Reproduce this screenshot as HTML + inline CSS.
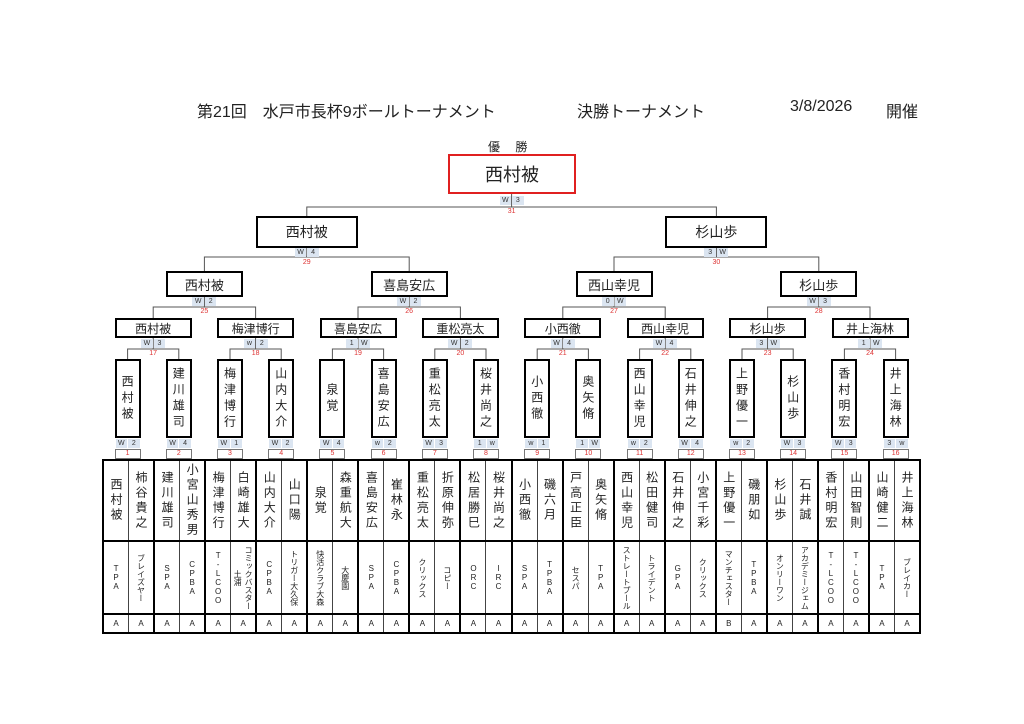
<!DOCTYPE html>
<html><head><meta charset="utf-8"><style>
*{box-sizing:border-box;margin:0;padding:0}
body{width:1024px;height:724px;background:#fff;position:relative;overflow:hidden;font-family:"Liberation Sans","Noto Sans CJK JP",sans-serif;color:#222}
.a{position:absolute}
.t{position:absolute;top:98px;font-size:16px;white-space:nowrap}
.vb{position:absolute;top:359px;width:26px;height:79px;border:2px solid #000;background:#fff;writing-mode:vertical-rl;text-orientation:upright;font-size:12px;display:flex;align-items:center;justify-content:center;letter-spacing:4px}
.hb{position:absolute;border:2px solid #000;background:#fff;display:flex;align-items:center;justify-content:center;font-size:12px}
.r2{top:318px;width:77px;height:20px}
.r3{top:271px;width:77px;height:26px;font-size:13px}
.r4{top:216px;width:102px;height:32px;font-size:14px}
.sc{position:absolute;width:24px;height:9px;display:flex;justify-content:space-between;font-size:7px;line-height:9px;color:#333}
.sc span{width:11.5px;background:#dbe5f1;text-align:center}
.mn{position:absolute;top:449px;width:26px;height:10px;border:1px solid #777;font-size:7px;line-height:8px;text-align:center;color:#d33;background:#fff}
.rn{position:absolute;width:30px;font-size:7px;text-align:center;color:#d33}
table{position:absolute;left:102px;top:459px;width:819px;border-collapse:collapse;table-layout:fixed;border:2px solid #000}
td{border:1px solid #444;text-align:center;vertical-align:middle}
td:nth-child(2n){border-right:2px solid #000}
.n td{height:81px}
.n div{writing-mode:vertical-rl;text-orientation:upright;font-size:12px;letter-spacing:3px;margin:auto;line-height:14px}
.c td{height:73px;border-top:2px solid #000}
.c div{writing-mode:vertical-rl;text-orientation:upright;font-size:8px;margin:auto;line-height:11px;max-height:68px}
.g td{height:19px;font-size:8px;border-top:2px solid #000}
</style></head><body>
<div class="t" style="left:197px">第21回　水戸市長杯9ボールトーナメント</div>
<div class="t" style="left:577px">決勝トーナメント</div>
<div class="t" style="left:790px">3/8/2026</div>
<div class="t" style="left:886px">開催</div>
<div class="a" style="left:488px;top:138px;font-size:12px">優　 勝</div>

<svg class="a" style="left:0;top:0" width="1024" height="724"><g fill="none" stroke="#555" stroke-width="1">
<path d="M127.6 359V349H178.8V359M153.2 349V338"/>
<path d="M230 359V349H281.2V359M255.6 349V338"/>
<path d="M332.4 359V349H383.6V359M358 349V338"/>
<path d="M434.8 359V349H486V359M460.4 349V338"/>
<path d="M537.2 359V349H588.4V359M562.8 349V338"/>
<path d="M639.6 359V349H690.8V359M665.2 349V338"/>
<path d="M742 359V349H793.2V359M767.6 349V338"/>
<path d="M844.4 359V349H895.6V359M870 349V338"/>
<path d="M153.2 318V307H255.6V318M204.4 307V297"/>
<path d="M358 318V307H460.4V318M409.2 307V297"/>
<path d="M562.8 318V307H665.2V318M614 307V297"/>
<path d="M767.6 318V307H870V318M818.8 307V297"/>
<path d="M204.4 271V257H409.2V271M306.8 257V248"/>
<path d="M614 271V257H818.8V271M716.4 257V248"/>
<path d="M306.8 216V207H716.4V216M511.6 207V194"/>
</g></svg>

<div class="hb" style="left:448px;top:154px;width:128px;height:40px;border-color:#e02020;font-size:18px">西村被</div>
<div class="sc" style="left:499.6px;top:196px"><span>W</span><span>3</span></div>
<div class="rn" style="left:496.6px;top:208px">31</div>

<div class="hb r4" style="left:255.8px">西村被</div>
<div class="hb r4" style="left:665.4px">杉山歩</div>
<div class="sc" style="left:294.8px;top:248px"><span>W</span><span>4</span></div>
<div class="rn" style="left:291.8px;top:259px">29</div>
<div class="sc" style="left:704.4px;top:248px"><span>3</span><span>W</span></div>
<div class="rn" style="left:701.4px;top:259px">30</div>

<div class="hb r3" style="left:165.9px">西村被</div>
<div class="hb r3" style="left:370.7px">喜島安広</div>
<div class="hb r3" style="left:575.5px">西山幸児</div>
<div class="hb r3" style="left:780.3px">杉山歩</div>
<div class="sc" style="left:192.4px;top:297px"><span>W</span><span>2</span></div>
<div class="rn" style="left:189.4px;top:308px">25</div>
<div class="sc" style="left:397.2px;top:297px"><span>W</span><span>2</span></div>
<div class="rn" style="left:394.2px;top:308px">26</div>
<div class="sc" style="left:602px;top:297px"><span>0</span><span>W</span></div>
<div class="rn" style="left:599px;top:308px">27</div>
<div class="sc" style="left:806.8px;top:297px"><span>W</span><span>3</span></div>
<div class="rn" style="left:803.8px;top:308px">28</div>

<div class="hb r2" style="left:114.7px">西村被</div>
<div class="hb r2" style="left:217.1px">梅津博行</div>
<div class="hb r2" style="left:319.5px">喜島安広</div>
<div class="hb r2" style="left:421.9px">重松亮太</div>
<div class="hb r2" style="left:524.3px">小西徹</div>
<div class="hb r2" style="left:626.7px">西山幸児</div>
<div class="hb r2" style="left:729.1px">杉山歩</div>
<div class="hb r2" style="left:831.5px">井上海林</div>
<div class="sc" style="left:141.2px;top:339px"><span>W</span><span>3</span></div><div class="rn" style="left:138.2px;top:350px">17</div>
<div class="sc" style="left:243.6px;top:339px"><span>w</span><span>2</span></div><div class="rn" style="left:240.6px;top:350px">18</div>
<div class="sc" style="left:346px;top:339px"><span>1</span><span>W</span></div><div class="rn" style="left:343px;top:350px">19</div>
<div class="sc" style="left:448.4px;top:339px"><span>W</span><span>2</span></div><div class="rn" style="left:445.4px;top:350px">20</div>
<div class="sc" style="left:550.8px;top:339px"><span>W</span><span>4</span></div><div class="rn" style="left:547.8px;top:350px">21</div>
<div class="sc" style="left:653.2px;top:339px"><span>W</span><span>4</span></div><div class="rn" style="left:650.2px;top:350px">22</div>
<div class="sc" style="left:755.6px;top:339px"><span>3</span><span>W</span></div><div class="rn" style="left:752.6px;top:350px">23</div>
<div class="sc" style="left:858px;top:339px"><span>1</span><span>W</span></div><div class="rn" style="left:855px;top:350px">24</div>

<div class="vb" style="left:114.6px">西村被</div>
<div class="vb" style="left:165.8px">建川雄司</div>
<div class="vb" style="left:217px">梅津博行</div>
<div class="vb" style="left:268.2px">山内大介</div>
<div class="vb" style="left:319.4px">泉覚</div>
<div class="vb" style="left:370.6px">喜島安広</div>
<div class="vb" style="left:421.8px">重松亮太</div>
<div class="vb" style="left:473px">桜井尚之</div>
<div class="vb" style="left:524.2px">小西徹</div>
<div class="vb" style="left:575.4px">奥矢脩</div>
<div class="vb" style="left:626.6px">西山幸児</div>
<div class="vb" style="left:677.8px">石井伸之</div>
<div class="vb" style="left:729px">上野優一</div>
<div class="vb" style="left:780.2px">杉山歩</div>
<div class="vb" style="left:831.4px">香村明宏</div>
<div class="vb" style="left:882.6px">井上海林</div>

<div class="sc" style="left:115.6px;top:439px"><span>W</span><span>2</span></div><div class="mn" style="left:114.6px">1</div>
<div class="sc" style="left:166.8px;top:439px"><span>W</span><span>4</span></div><div class="mn" style="left:165.8px">2</div>
<div class="sc" style="left:218px;top:439px"><span>W</span><span>1</span></div><div class="mn" style="left:217px">3</div>
<div class="sc" style="left:269.2px;top:439px"><span>W</span><span>2</span></div><div class="mn" style="left:268.2px">4</div>
<div class="sc" style="left:320.4px;top:439px"><span>W</span><span>4</span></div><div class="mn" style="left:319.4px">5</div>
<div class="sc" style="left:371.6px;top:439px"><span>w</span><span>2</span></div><div class="mn" style="left:370.6px">6</div>
<div class="sc" style="left:422.8px;top:439px"><span>W</span><span>3</span></div><div class="mn" style="left:421.8px">7</div>
<div class="sc" style="left:474px;top:439px"><span>1</span><span>w</span></div><div class="mn" style="left:473px">8</div>
<div class="sc" style="left:525.2px;top:439px"><span>w</span><span>1</span></div><div class="mn" style="left:524.2px">9</div>
<div class="sc" style="left:576.4px;top:439px"><span>1</span><span>W</span></div><div class="mn" style="left:575.4px">10</div>
<div class="sc" style="left:627.6px;top:439px"><span>w</span><span>2</span></div><div class="mn" style="left:626.6px">11</div>
<div class="sc" style="left:678.8px;top:439px"><span>W</span><span>4</span></div><div class="mn" style="left:677.8px">12</div>
<div class="sc" style="left:730px;top:439px"><span>w</span><span>2</span></div><div class="mn" style="left:729px">13</div>
<div class="sc" style="left:781.2px;top:439px"><span>W</span><span>3</span></div><div class="mn" style="left:780.2px">14</div>
<div class="sc" style="left:832.4px;top:439px"><span>W</span><span>3</span></div><div class="mn" style="left:831.4px">15</div>
<div class="sc" style="left:883.6px;top:439px"><span>3</span><span>w</span></div><div class="mn" style="left:882.6px">16</div>

<table>
<tr class="n"><td><div>西村被</div></td><td><div>柿谷貴之</div></td><td><div>建川雄司</div></td><td><div>小宮山秀男</div></td><td><div>梅津博行</div></td><td><div>白崎雄大</div></td><td><div>山内大介</div></td><td><div>山口陽</div></td><td><div>泉覚</div></td><td><div>森重航大</div></td><td><div>喜島安広</div></td><td><div>崔林永</div></td><td><div>重松亮太</div></td><td><div>折原伸弥</div></td><td><div>松居勝巳</div></td><td><div>桜井尚之</div></td><td><div>小西徹</div></td><td><div>磯六月</div></td><td><div>戸高正臣</div></td><td><div>奥矢脩</div></td><td><div>西山幸児</div></td><td><div>松田健司</div></td><td><div>石井伸之</div></td><td><div>小宮千彩</div></td><td><div>上野優一</div></td><td><div>磯朋如</div></td><td><div>杉山歩</div></td><td><div>石井誠</div></td><td><div>香村明宏</div></td><td><div>山田智則</div></td><td><div>山崎健二</div></td><td><div>井上海林</div></td></tr>
<tr class="c"><td><div>TPA</div></td><td><div>ブレイズヤー</div></td><td><div>SPA</div></td><td><div>CPBA</div></td><td><div>T-LCOO</div></td><td><div>コミックバスター土浦</div></td><td><div>CPBA</div></td><td><div>トリガー大久保</div></td><td><div>快活クラブ大森</div></td><td><div>大慶園</div></td><td><div>SPA</div></td><td><div>CPBA</div></td><td><div>クリックス</div></td><td><div>コピー</div></td><td><div>ORC</div></td><td><div>IRC</div></td><td><div>SPA</div></td><td><div>TPBA</div></td><td><div>セスパ</div></td><td><div>TPA</div></td><td><div>ストレートプール</div></td><td><div>トライデント</div></td><td><div>GPA</div></td><td><div>クリックス</div></td><td><div>マンチェスター</div></td><td><div>TPBA</div></td><td><div>オンリーワン</div></td><td><div>アカデミージェム</div></td><td><div>T-LCOO</div></td><td><div>T-LCOO</div></td><td><div>TPA</div></td><td><div>ブレイカー</div></td></tr>
<tr class="g"><td>A</td><td>A</td><td>A</td><td>A</td><td>A</td><td>A</td><td>A</td><td>A</td><td>A</td><td>A</td><td>A</td><td>A</td><td>A</td><td>A</td><td>A</td><td>A</td><td>A</td><td>A</td><td>A</td><td>A</td><td>A</td><td>A</td><td>A</td><td>A</td><td>B</td><td>A</td><td>A</td><td>A</td><td>A</td><td>A</td><td>A</td><td>A</td></tr>
</table>
</body></html>
